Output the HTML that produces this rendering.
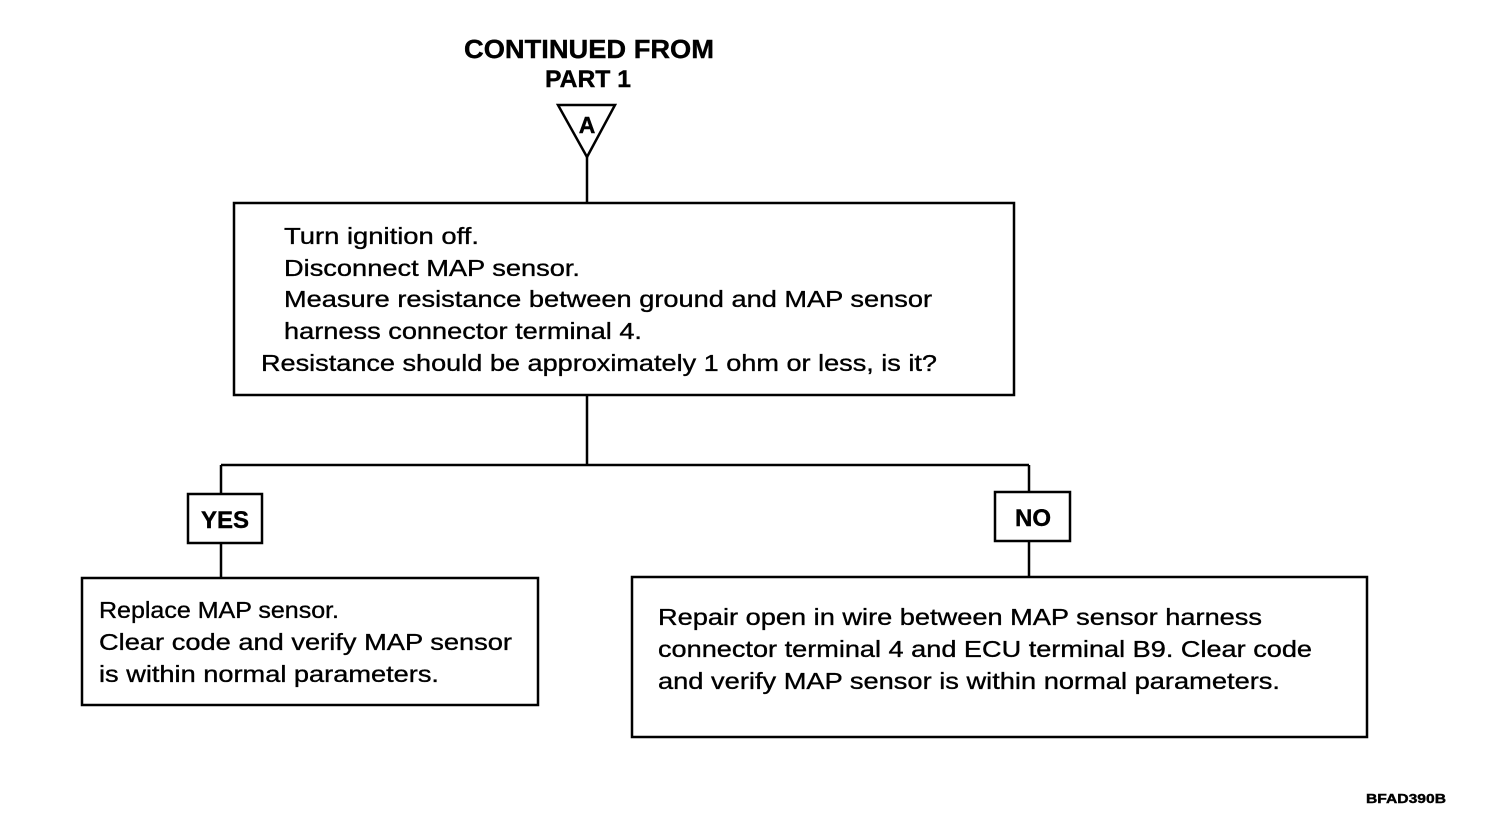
<!DOCTYPE html>
<html><head><meta charset="utf-8"><style>
html,body{margin:0;padding:0;background:#fff;}
svg{display:block;}
text{font-family:"Liberation Sans",Arial,sans-serif;fill:#000;}
.t{font-size:23px;stroke:#000;stroke-width:0.35px;}
.b{font-weight:bold;stroke:#000;stroke-width:0.4px;}
</style></head><body>
<svg width="1504" height="830" viewBox="0 0 1504 830" xmlns="http://www.w3.org/2000/svg">
<g fill="none" stroke="#000" stroke-width="2.5">
<polygon points="558,105 615,105 587,157"/>
<line x1="587" y1="157" x2="587" y2="202"/>
<rect x="234" y="203" width="780" height="192"/>
<line x1="587" y1="395" x2="587" y2="465"/>
<line x1="221" y1="465" x2="1029" y2="465"/>
<line x1="221" y1="465" x2="221" y2="494"/>
<line x1="1029" y1="465" x2="1029" y2="492"/>
<rect x="188" y="494" width="74" height="49"/>
<rect x="995" y="492" width="75" height="49"/>
<line x1="221" y1="543" x2="221" y2="578"/>
<line x1="1029" y1="541" x2="1029" y2="577"/>
<rect x="82" y="578" width="456" height="127"/>
<rect x="632" y="577" width="735" height="160"/>
</g>
<text class="b" x="464" y="58" font-size="26" textLength="250" lengthAdjust="spacingAndGlyphs">CONTINUED FROM</text>
<text class="b" x="545" y="87" font-size="24" textLength="86" lengthAdjust="spacingAndGlyphs">PART 1</text>
<text class="b" x="587" y="133" font-size="23" text-anchor="middle">A</text>
<text class="t" x="284" y="244" textLength="195" lengthAdjust="spacingAndGlyphs">Turn ignition off.</text>
<text class="t" x="284" y="276" textLength="296" lengthAdjust="spacingAndGlyphs">Disconnect MAP sensor.</text>
<text class="t" x="284" y="307" textLength="648" lengthAdjust="spacingAndGlyphs">Measure resistance between ground and MAP sensor</text>
<text class="t" x="284" y="339" textLength="358" lengthAdjust="spacingAndGlyphs">harness connector terminal 4.</text>
<text class="t" x="261" y="371" textLength="676" lengthAdjust="spacingAndGlyphs">Resistance should be approximately 1 ohm or less, is it?</text>
<text class="b" x="225" y="528" font-size="24" text-anchor="middle">YES</text>
<text class="b" x="1033" y="526" font-size="24" text-anchor="middle">NO</text>
<text class="t" x="99" y="618" textLength="240" lengthAdjust="spacingAndGlyphs">Replace MAP sensor.</text>
<text class="t" x="99" y="650" textLength="413" lengthAdjust="spacingAndGlyphs">Clear code and verify MAP sensor</text>
<text class="t" x="99" y="682" textLength="340" lengthAdjust="spacingAndGlyphs">is within normal parameters.</text>
<text class="t" x="658" y="625" textLength="604" lengthAdjust="spacingAndGlyphs">Repair open in wire between MAP sensor harness</text>
<text class="t" x="658" y="657" textLength="654" lengthAdjust="spacingAndGlyphs">connector terminal 4 and ECU terminal B9. Clear code</text>
<text class="t" x="658" y="689" textLength="622" lengthAdjust="spacingAndGlyphs">and verify MAP sensor is within normal parameters.</text>
<text class="b" x="1366" y="803" font-size="13" textLength="80" lengthAdjust="spacingAndGlyphs">BFAD390B</text>
</svg>
</body></html>
